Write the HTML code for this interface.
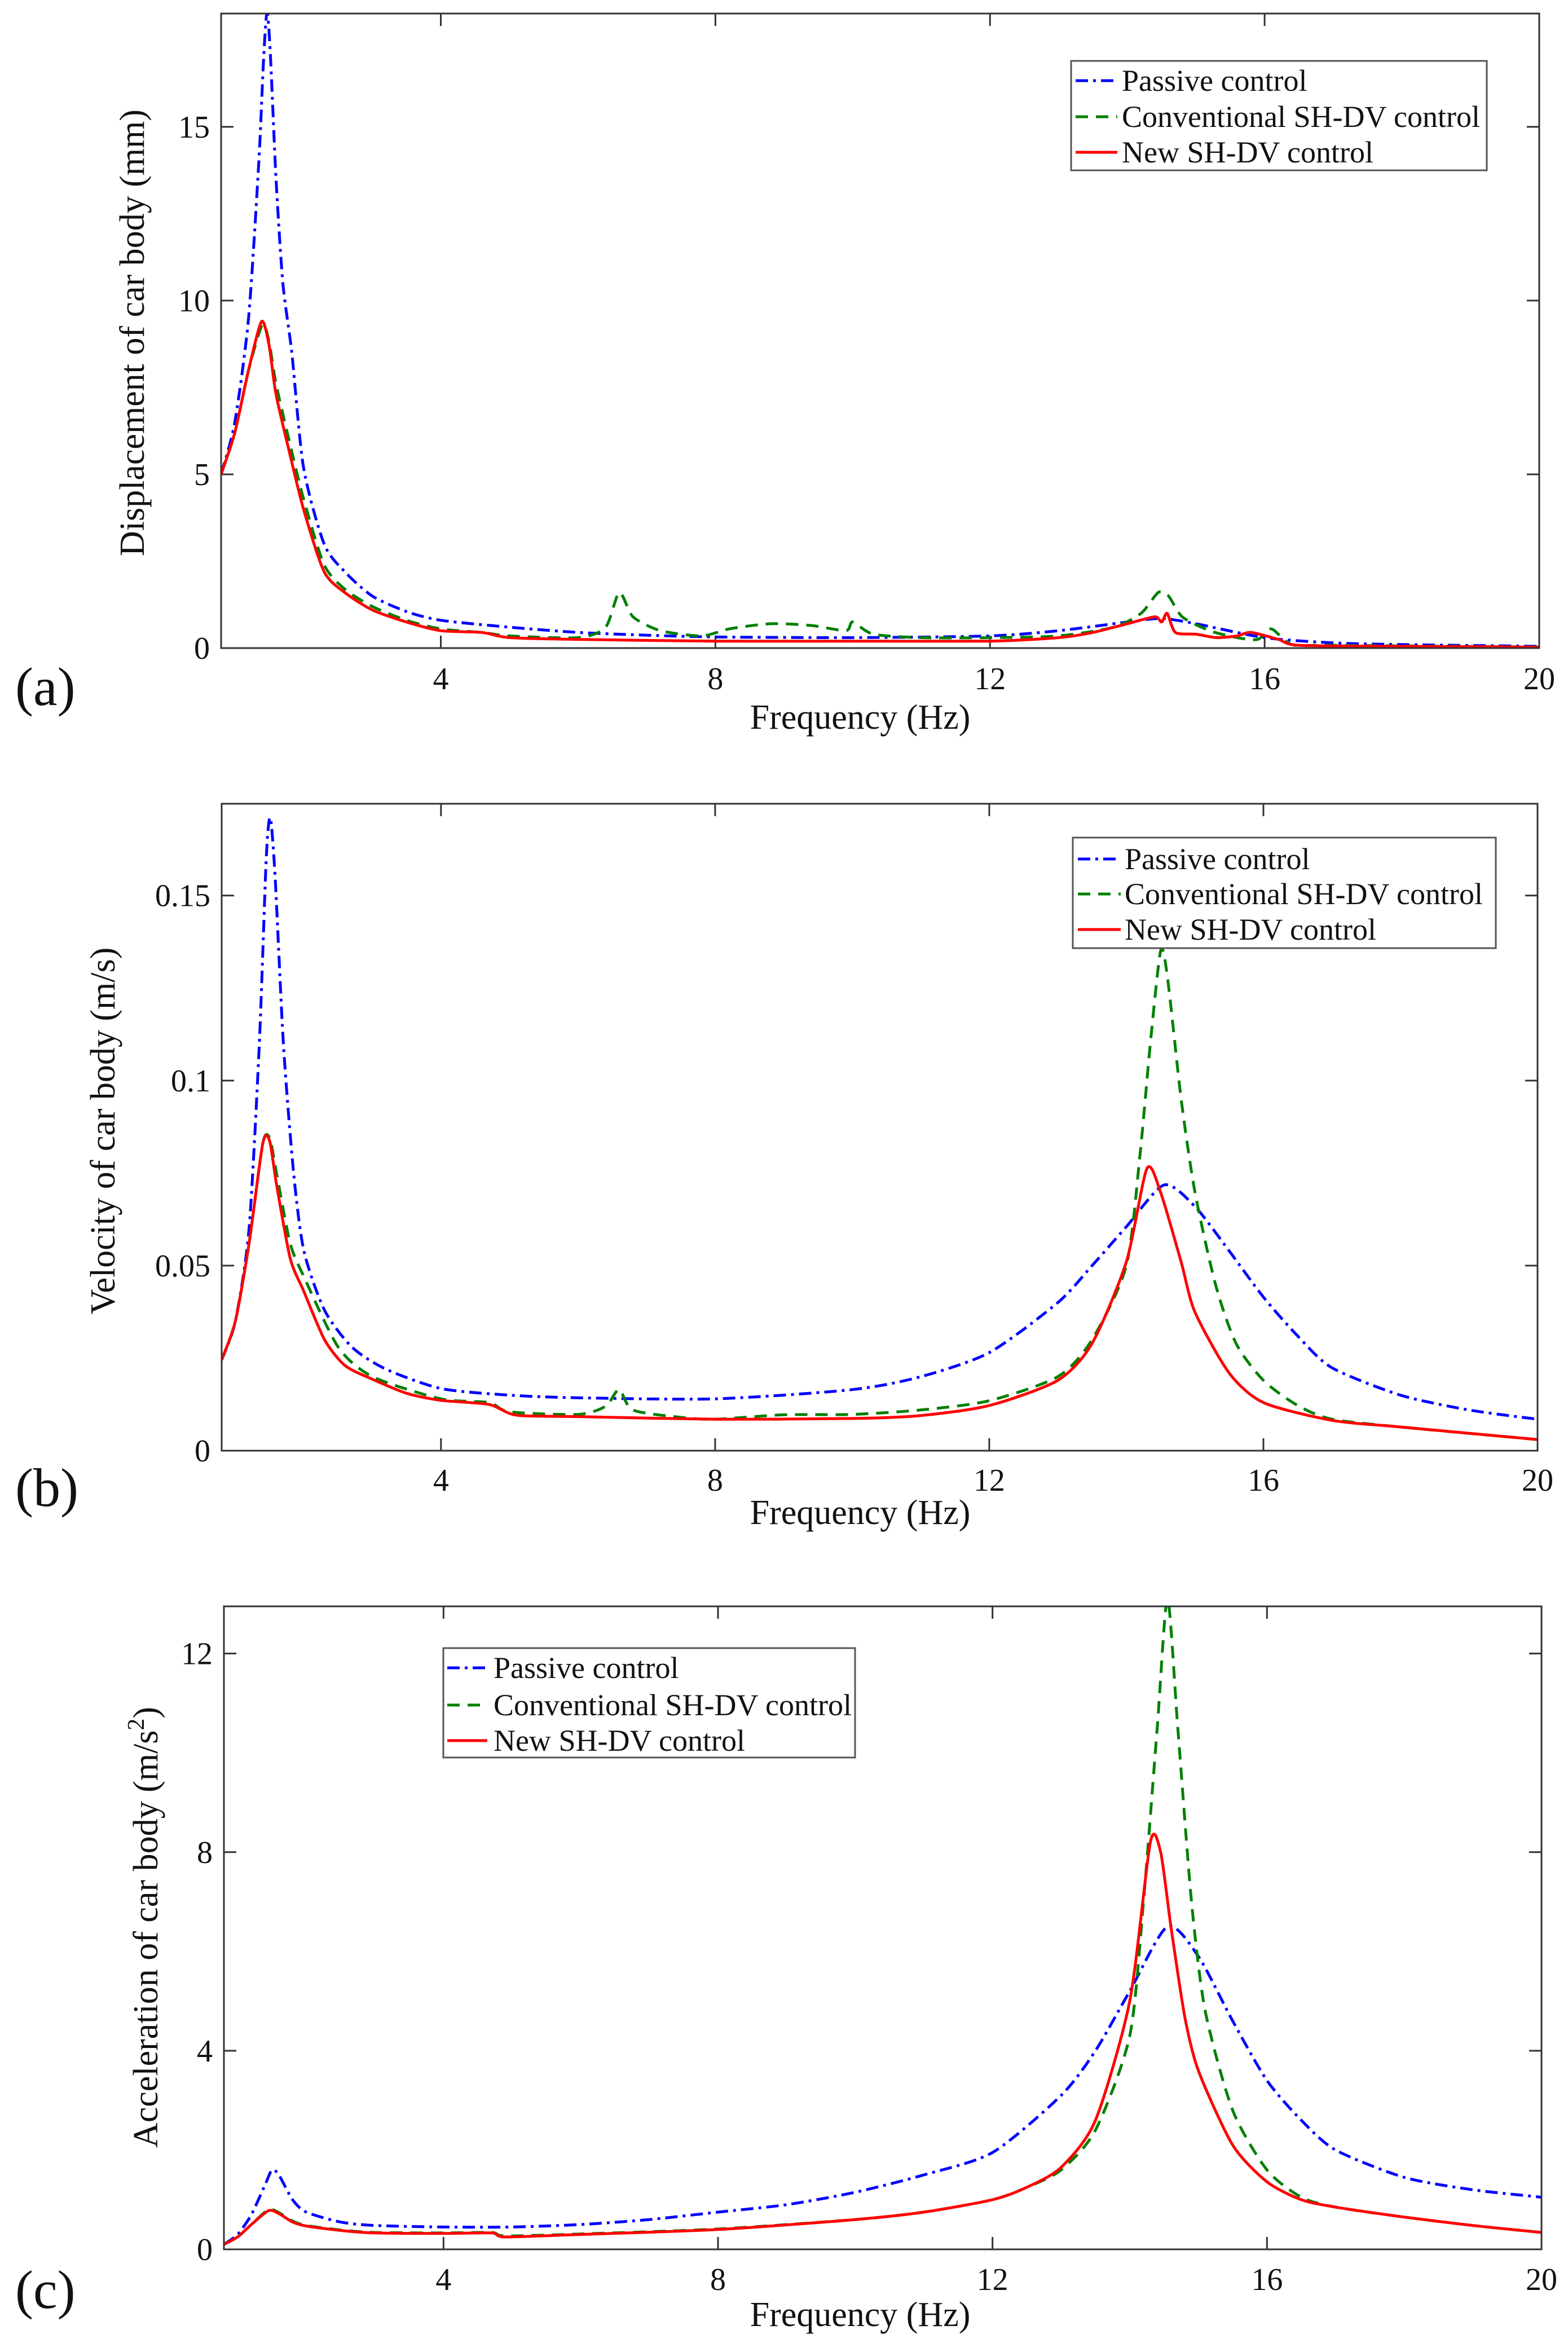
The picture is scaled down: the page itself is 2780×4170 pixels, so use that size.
<!DOCTYPE html>
<html><head><meta charset="utf-8"><style>
html,body{margin:0;padding:0;background:#fff;}
svg{display:block;}
text{font-family:"Liberation Serif","Times New Roman",serif;}
</style></head><body>
<svg id="fig" width="2780" height="4170" viewBox="0 0 2780 4170" xmlns="http://www.w3.org/2000/svg" font-family="Liberation Serif, serif">
<rect width="2780" height="4170" fill="#fff"/>
</svg>
<script>
// ---- shared x data ----
const xTicks = [4, 8, 12, 16, 20];
// ---- panel (a) displacement (mm) ----
const aTicks = [0, 5, 10, 15];
const aPassF = [0.8,1.0,1.2,1.35,1.42,1.47,1.52,1.6,1.7,1.83,2.0,2.3,2.6,3.0,3.5,4,5,6,7,8,10,12,13,14,14.5,15,16,17,18,20];
const aPassV = [5.0,6.5,9.5,14,17,18.3,17,13.5,10.5,8.5,5.2,3.0,2.2,1.5,1.05,0.8,0.6,0.45,0.37,0.32,0.3,0.35,0.5,0.75,0.85,0.7,0.3,0.15,0.1,0.05];
const aConvF = [0.8,1.0,1.2,1.4,1.5,1.6,1.8,2.0,2.3,2.6,3,3.5,4,4.6,5,6,6.4,6.6,6.8,7.2,7.8,8.2,8.8,9.4,9.9,10.0,10.3,11,12,13,13.8,14.2,14.45,14.6,14.8,15.2,15.6,15.9,16.1,16.4,17,20];
const aConvV = [5,6.2,8.0,9.3,8.8,7.6,5.9,4.3,2.4,1.7,1.2,0.8,0.55,0.45,0.35,0.3,0.6,1.6,0.9,0.5,0.35,0.55,0.7,0.65,0.5,0.75,0.4,0.3,0.3,0.35,0.6,1.0,1.6,1.5,0.9,0.5,0.3,0.25,0.55,0.1,0.08,0.03];
const aNewF = [0.8,1.0,1.2,1.39,1.5,1.6,1.8,2.0,2.3,2.6,3,3.5,4,4.6,5,6,8,10,12,13,13.5,14,14.4,14.5,14.58,14.7,15.0,15.3,15.6,15.8,16.2,16.5,18,20];
const aNewV = [5,6.2,8.0,9.4,8.7,7.3,5.6,4.0,2.2,1.6,1.1,0.75,0.5,0.45,0.3,0.25,0.2,0.2,0.2,0.3,0.45,0.7,0.9,0.75,1.0,0.45,0.4,0.3,0.35,0.45,0.25,0.08,0.05,0.03];
// ---- panel (b) velocity (m/s) ----
const bTicks = [0, 0.05, 0.1, 0.15];
const bPassF = [0.8,1.0,1.2,1.35,1.45,1.51,1.58,1.7,1.85,2.0,2.3,2.7,3.2,4,5,6,8,10,11,12,13,13.5,14,14.55,15,15.5,16,16.5,17,18,19,20];
const bPassV = [.0245,.035,.06,.11,.16,.171,.155,.11,.075,.054,.038,.028,.022,.0168,.015,.0143,.014,.0165,.02,.0265,.040,.05,.0605,.0718,.066,.054,.0415,.031,.0224,.015,.011,.0085];
const bConvF = [0.8,1.0,1.2,1.4,1.5,1.6,1.8,2.0,2.5,3,4,4.7,5.0,6,6.4,6.6,6.8,7.5,8,9,10,11,12,13,13.5,14,14.2,14.35,14.5,14.6,14.8,15,15.3,15.6,16,16.5,17,18,20];
const bConvV = [.0245,.035,.056,.083,.0845,.075,.056,.047,.028,.02,.014,.013,.0105,.0098,.012,.0165,.011,.009,.0085,.0097,.0098,.011,.0135,.02,.03,.05,.08,.11,.135,.128,.095,.07,.045,.029,.019,.0122,.0085,.0064,.003];
const bNewF = [0.8,1.0,1.2,1.4,1.5,1.6,1.8,2.0,2.3,2.6,3.0,3.5,4,4.7,5.1,6,8,10,11,12,13,13.5,14,14.3,14.5,14.8,15,15.5,16,17,18,20];
const bNewV = [.0245,.035,.056,.083,.0837,.072,.052,.043,.03,.023,.0193,.0155,.0136,.0125,.0096,.0092,.0085,.0087,.0095,.0122,.019,.029,.051,.0762,.0698,.051,.0375,.021,.013,.0082,.0064,.003];
// ---- panel (c) acceleration (m/s^2) ----
const cTicks = [0, 4, 8, 12];
const cPassF = [0.8,1.0,1.2,1.4,1.5,1.6,1.8,2.0,2.5,3,4,5,6,7,8,9,10,11,12,13,13.5,14,14.55,15,15.5,16,16.5,17,18,19,20];
const cPassV = [0.1,0.3,0.7,1.3,1.6,1.5,1.0,0.75,0.55,0.48,0.45,0.45,0.5,0.6,0.75,0.9,1.15,1.5,1.95,3.1,4.0,5.2,6.5,5.9,4.6,3.4,2.6,2.0,1.45,1.2,1.05];
const cConvF = [0.8,1.0,1.2,1.45,1.6,1.8,2.0,2.5,3,4,4.7,4.9,6,8,10,11,12,12.5,13,13.5,14,14.2,14.4,14.55,14.7,14.9,15.1,15.5,16,16.5,17,18,19,20];
const cConvV = [0.1,0.25,0.5,0.8,0.74,0.57,0.48,0.39,0.34,0.33,0.34,0.27,0.31,0.41,0.6,0.75,1.0,1.25,1.6,2.4,4.3,7.0,10.5,13.1,10.5,7.0,4.8,2.8,1.6,1.05,0.85,0.65,0.48,0.34];
const cNewF = [0.8,1.0,1.2,1.45,1.6,1.8,2.0,2.5,3,4,4.7,4.9,6,8,10,11,12,12.5,13,13.5,14,14.3,14.45,14.6,14.8,15,15.5,16,16.5,17,18,19,20];
const cNewV = [0.1,0.25,0.5,0.78,0.72,0.55,0.47,0.38,0.33,0.32,0.33,0.25,0.3,0.4,0.6,0.75,1.0,1.25,1.65,2.6,5.0,8.2,8.0,6.5,4.7,3.6,2.1,1.36,1.0,0.85,0.65,0.48,0.34];

const NS = "http://www.w3.org/2000/svg";
const svg = document.getElementById("fig");
const FONT = "Liberation Serif, Times New Roman, serif";
function mk(tag, attrs, parent){const e=document.createElementNS(NS,tag);for(const k in attrs)e.setAttribute(k,attrs[k]);if(tag==="text")e.setAttribute("font-family",FONT);(parent||svg).appendChild(e);return e;}

const STY = {
  pass:{stroke:"#0000ff",dash:"22,9,5,9",label:"Passive control"},
  conv:{stroke:"#008000",dash:"22,14",label:"Conventional SH-DV control"},
  nw:{stroke:"#ff0000",dash:"none",label:"New SH-DV control"}
};

function smoothPath(pts){
  let d="M"+pts[0][0].toFixed(1)+","+pts[0][1].toFixed(1);
  for(let i=0;i<pts.length-1;i++){
    const p0=pts[Math.max(0,i-1)],p1=pts[i],p2=pts[i+1],p3=pts[Math.min(pts.length-1,i+2)];
    const t=1/8;
    const c1=[p1[0]+(p2[0]-p0[0])*t,p1[1]+(p2[1]-p0[1])*t];
    const c2=[p2[0]-(p3[0]-p1[0])*t,p2[1]-(p3[1]-p1[1])*t];
    d+=" C"+c1[0].toFixed(1)+","+c1[1].toFixed(1)+" "+c2[0].toFixed(1)+","+c2[1].toFixed(1)+" "+p2[0].toFixed(1)+","+p2[1].toFixed(1);
  }
  return d;
}

function panel(p){
  const g = mk("g",{});
  
  
  const xs = f => p.L + (f-0.8)/(20-0.8)*(p.R-p.L);
  const ys = v => p.B - v/p.ymax*(p.B-p.T);
  const cid = "clip-"+p.id;
  const cp = mk("clipPath",{id:cid},g); mk("rect",{x:p.L,y:p.T,width:p.R-p.L,height:p.B-p.T},cp);
  for(const t of xTicks){
    const x=xs(t);
    const l1=mk("line",{x1:x,x2:x,y1:p.B,y2:p.B-22,stroke:"#333","stroke-width":3},g);
    
    
    const l2=mk("line",{x1:x,x2:x,y1:p.T,y2:p.T+22,stroke:"#333","stroke-width":3},g);
    
    
    const tx=mk("text",{x:x,y:p.xtY,"font-size":56,"text-anchor":"middle",fill:"#111"},g);
    tx.textContent=String(t);
    
    
  }
  for(const t of p.ticks){
    const y=ys(t);
    const l1=mk("line",{x1:p.L,x2:p.L+22,y1:y,y2:y,stroke:"#333","stroke-width":3},g);
    
    
    const l2=mk("line",{x1:p.R,x2:p.R-22,y1:y,y2:y,stroke:"#333","stroke-width":3},g);
    
    
    const tx=mk("text",{x:p.L-20,y:y+19,"font-size":56,"text-anchor":"end",fill:"#111"},g);
    tx.textContent=String(t);
    
    
  }
  const series=[["pass",p.pass],["conv",p.conv],["nw",p.nw]];
  for(const [k,s] of series){
    const pts=s[0].map((f,i)=>[xs(f),ys(s[1][i])]);
    const path=mk("path",{d:smoothPath(pts),fill:"none",stroke:STY[k].stroke,"stroke-width":5,"stroke-dasharray":STY[k].dash,"stroke-linejoin":"round","clip-path":"url(#"+cid+")"},g);
    
    
  }
  const fr=mk("rect",{x:p.L,y:p.T,width:p.R-p.L,height:p.B-p.T,fill:"none",stroke:"#333","stroke-width":3},g);
  
  
  const lg=mk("g",{},g);
  
  
  mk("rect",{x:p.lg[0],y:p.lg[1],width:p.lg[2]-p.lg[0],height:p.lg[3]-p.lg[1],fill:"#fff",stroke:"#555","stroke-width":3},lg);
  ["pass","conv","nw"].forEach((k,i)=>{
    const cy=p.lgRows[i];
    const ln=mk("line",{x1:p.lgS[0],x2:p.lgS[1],y1:cy,y2:cy,stroke:STY[k].stroke,"stroke-width":5,"stroke-dasharray":STY[k].dash},lg);
    
    
    const tx=mk("text",{x:p.lgT,y:cy+18,"font-size":54,fill:"#111"},lg);
    tx.textContent=STY[k].label;
    
    
  });
  const xl=mk("text",{x:1525,y:p.xlY,"font-size":62,"text-anchor":"middle",fill:"#111"},g);
  xl.textContent="Frequency (Hz)";
  
  
  const yl=mk("text",{x:0,y:0,"font-size":62,"text-anchor":"middle",fill:"#111",transform:"translate("+p.ylX+","+p.ylY+") rotate(-90)"},g);
  
  
  if(p.id==="c"){
    yl.appendChild(document.createTextNode("Acceleration of car body (m/s"));
    const sup=mk("tspan",{dy:-24,"font-size":42},yl); sup.textContent="2";
    const rest=mk("tspan",{dy:24},yl); rest.textContent=")";
  } else yl.textContent=p.ylab;
  const pl=mk("text",{x:p.plX,y:p.plY,"font-size":96,fill:"#111"},g);
  pl.textContent="("+p.id+")";
  
  
}

panel({id:"a",name:"displacement-panel",L:392,R:2729,T:24,B:1149,ymax:18.26,ticks:aTicks,xtY:1222,
  pass:[aPassF,aPassV],conv:[aConvF,aConvV],nw:[aNewF,aNewV],
  lg:[1899,108,2636,302],lgRows:[143,207,270],lgS:[1907,1981],lgT:1989,
  xlY:1292,ylX:255,ylY:590,ylab:"Displacement of car body (mm)",plX:27,plY:1250});
panel({id:"b",name:"velocity-panel",L:393,R:2726,T:1425,B:2572,ymax:0.1748,ticks:bTicks,xtY:2643,
  pass:[bPassF,bPassV],conv:[bConvF,bConvV],nw:[bNewF,bNewV],
  lg:[1902,1485,2652,1681],lgRows:[1523,1585,1648],lgS:[1911,1987],lgT:1994,
  xlY:2702,ylX:203,ylY:2005,ylab:"Velocity of car body (m/s)",plX:27,plY:2670});
panel({id:"c",name:"acceleration-panel",L:397,R:2733,T:2848,B:3988,ymax:12.95,ticks:cTicks,xtY:4060,
  pass:[cPassF,cPassV],conv:[cConvF,cConvV],nw:[cNewF,cNewV],
  lg:[786,2922,1516,3116],lgRows:[2957,3023,3086],lgS:[793,864],lgT:875,
  xlY:4124,ylX:279,ylY:3417,ylab:"",plX:27,plY:4092});
</script>
</body></html>
